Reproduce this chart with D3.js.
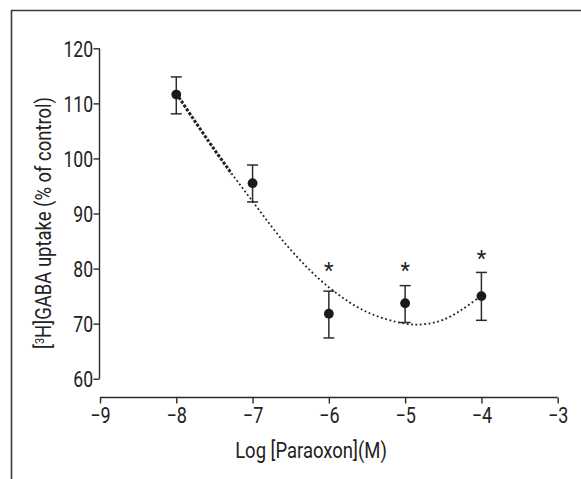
<!DOCTYPE html>
<html>
<head>
<meta charset="utf-8">
<script src="https://cdn.jsdelivr.net/npm/d3@7"></script>
<style>
  html, body { margin: 0; padding: 0; background: #fff; }
  svg { display: block; }
  text { font-family: "Roboto", "DejaVu Sans Condensed", sans-serif; fill: #222; }
</style>
</head>
<body>
<svg id="chart" width="581" height="479"></svg>
<script>
// ---- data ----
const logConc   = [-8, -7, -6, -5, -4];
const uptake    = [111.6, 95.5, 71.8, 73.7, 75.0];
const errTop    = [114.8, 98.8, 75.9, 76.9, 79.3];
const errBottom = [108.1, 92.1, 67.4, 70.2, 70.6];
const starConc  = [-6, -5, -4];
const starLevel = [80.3, 80.3, 82.4];
const fitX      = [-8, -7.5, -7, -6.5, -6, -5.5, -5, -4.75, -4.5, -4.25, -4];
const fitY      = [111.8, 101.6, 92.2, 83.4, 76.6, 72.1, 70.0, 69.9, 70.7, 72.6, 75.1];
const xTicks    = [-9, -8, -7, -6, -5, -4, -3];
const yTicks    = [60, 70, 80, 90, 100, 110, 120];
const xTitle    = "Log [Paraoxon](M)";

const svg = d3.select("#chart");
const ink = "#2b2b2b";
const FONT = "Roboto, 'DejaVu Sans Condensed', sans-serif";

// frame (top and left border)
svg.append("line").attr("x1", 11).attr("x2", 581).attr("y1", 10.5).attr("y2", 10.5)
  .attr("stroke", "#3a3a3a").attr("stroke-width", 1.6);
svg.append("line").attr("x1", 11.5).attr("x2", 11.5).attr("y1", 10).attr("y2", 479)
  .attr("stroke", "#3a3a3a").attr("stroke-width", 1.6);

const x = d3.scaleLinear().domain([-9, -3]).range([100, 557.7]);
const y = d3.scaleLinear().domain([60, 120]).range([378.7, 48.3]);

// y axis
const yAxis = svg.append("g").attr("transform", "translate(99.5,0)")
  .call(d3.axisLeft(y).tickValues(yTicks).tickSize(6).tickPadding(2).tickFormat(d3.format("d")));
yAxis.select(".domain").attr("d", `M0,${y(120)}V${y(60)}`);
yAxis.selectAll("path, line").attr("stroke", ink).attr("stroke-width", 1.4);
yAxis.selectAll("text").attr("font-size", 22).attr("fill", "#222").attr("font-family", FONT)
  .attr("dy", "0.36em").attr("transform", "scale(0.8,1)");

// x axis
const xAxis = svg.append("g").attr("transform", "translate(0,397.5)")
  .call(d3.axisBottom(x).tickValues(xTicks).tickSize(6).tickPadding(4)
    .tickFormat(d => "\u2212" + Math.abs(d)));
xAxis.select(".domain").attr("d", `M${x(-9)},0H${x(-3)}`);
xAxis.selectAll("path, line").attr("stroke", ink).attr("stroke-width", 1.4);
xAxis.selectAll("text").attr("font-size", 22).attr("fill", "#222").attr("font-family", FONT)
  .attr("transform", "scale(0.82,1)");

// axis titles
svg.append("text").attr("transform", "translate(311,458) scale(0.84,1)")
  .attr("text-anchor", "middle").attr("font-size", 22).text(xTitle);

const yt = svg.append("text")
  .attr("transform", "translate(51,223) rotate(-90) scale(0.84,1)")
  .attr("text-anchor", "middle").attr("font-size", 22);
yt.append("tspan").text("[");
yt.append("tspan").attr("font-size", 13).attr("dy", -7).text("3");
yt.append("tspan").attr("dy", 7).text("H]GABA uptake (% of control)");

// fitted curve (dotted), heavier near the start
const fitData = fitX.map((v, i) => [v, fitY[i]]);
const line = d3.line().x(d => x(d[0])).y(d => y(d[1])).curve(d3.curveCatmullRom.alpha(0.5));
const defs = svg.append("defs");
defs.append("clipPath").attr("id", "clipA").append("rect")
  .attr("x", 0).attr("y", 0).attr("width", x(-7.28)).attr("height", 479);
defs.append("clipPath").attr("id", "clipB").append("rect")
  .attr("x", x(-7.28)).attr("y", 0).attr("width", 581).attr("height", 479);
svg.append("path").datum(fitData).attr("d", line).attr("fill", "none")
  .attr("stroke", "#222").attr("stroke-width", 3).attr("stroke-dasharray", "3,1.6")
  .attr("clip-path", "url(#clipA)");
svg.append("path").datum(fitData).attr("d", line).attr("fill", "none")
  .attr("stroke", "#222").attr("stroke-width", 1.8).attr("stroke-dasharray", "1.8,2.6")
  .attr("clip-path", "url(#clipB)");

// error bars
const pts = logConc.map((c, i) => ({ c, v: uptake[i], t: errTop[i], b: errBottom[i] }));
const eb = svg.append("g").attr("stroke", ink).attr("stroke-width", 1.5);
pts.forEach(p => {
  eb.append("line").attr("x1", x(p.c)).attr("x2", x(p.c)).attr("y1", y(p.t)).attr("y2", y(p.b));
  eb.append("line").attr("x1", x(p.c) - 5.5).attr("x2", x(p.c) + 5.5).attr("y1", y(p.t)).attr("y2", y(p.t));
  eb.append("line").attr("x1", x(p.c) - 5.5).attr("x2", x(p.c) + 5.5).attr("y1", y(p.b)).attr("y2", y(p.b));
});

// points
svg.append("g").selectAll("circle").data(pts).join("circle")
  .attr("cx", d => x(d.c)).attr("cy", d => y(d.v)).attr("r", 4.9).attr("fill", "#1a1a1a");

// significance stars
svg.append("g").selectAll("text").data(starConc.map((c, i) => [c, starLevel[i]])).join("text")
  .attr("x", d => x(d[0])).attr("y", d => y(d[1]) + 11)
  .attr("text-anchor", "middle").attr("font-size", 22).attr("fill", "#222").text("*");
</script>
</body>
</html>
